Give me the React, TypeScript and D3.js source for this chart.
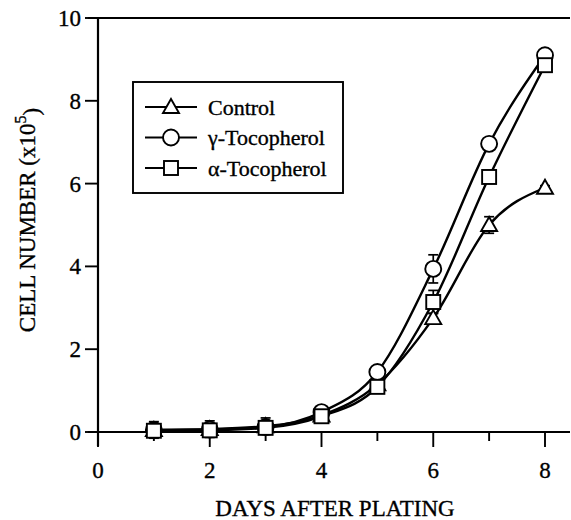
import React from "react";
import * as d3 from "d3";

// Days after plating at which cells were counted
const days = [1, 2, 3, 4, 5, 6, 7, 8];

// Cell number (x10^5), mean and standard error for each treatment
const controlMean = [0.05, 0.07, 0.14, 0.4, 1.15, 2.75, 5.0, 5.9];
const controlErr = [0.2, 0.2, 0.2, 0.05, 0.05, 0.12, 0.2, 0.05];
const gammaMean = [0.05, 0.06, 0.12, 0.48, 1.45, 3.94, 6.96, 9.1];
const gammaErr = [0.05, 0.05, 0.05, 0.05, 0.05, 0.34, 0.05, 0.05];
const alphaMean = [0.03, 0.04, 0.1, 0.38, 1.09, 3.14, 6.16, 8.86];
const alphaErr = [0.05, 0.05, 0.05, 0.05, 0.05, 0.28, 0.05, 0.05];

const seriesNames = ["Control", "\u03b3-Tocopherol", "\u03b1-Tocopherol"];
const seriesShapes = ["triangle", "circle", "square"];

const xTicks = [0, 1, 2, 3, 4, 5, 6, 7, 8];
const xTickLabels = ["0", "2", "4", "6", "8"];
const yTicks = [0, 2, 4, 6, 8, 10];

const W = 571;
const H = 520;
const FONT = "'Liberation Serif', 'Times New Roman', serif";
const TEXT_STROKE = 0.35;

function Marker({ shape, x, y }: { shape: string; x: number; y: number }) {
  const sw = 1.9;
  if (shape === "circle") {
    return <circle cx={x} cy={y} r={8} fill="#fff" stroke="#000" strokeWidth={sw} />;
  }
  if (shape === "square") {
    return <rect x={x - 7} y={y - 7} width={14} height={14} fill="#fff" stroke="#000" strokeWidth={sw} />;
  }
  const s = 8;
  return (
    <path
      d={`M${x},${y - s} L${x + s},${y + s * 0.75} L${x - s},${y + s * 0.75} Z`}
      fill="#fff"
      stroke="#000"
      strokeWidth={sw}
    />
  );
}

export default function App() {
  const x = d3.scaleLinear().domain([0, 8]).range([98, 545]);
  const y = d3.scaleLinear().domain([0, 10]).range([432, 18]);

  const series = [
    { name: seriesNames[0], shape: seriesShapes[0], mean: controlMean, err: controlErr },
    { name: seriesNames[1], shape: seriesShapes[1], mean: gammaMean, err: gammaErr },
    { name: seriesNames[2], shape: seriesShapes[2], mean: alphaMean, err: alphaErr },
  ];

  const line = d3
    .line<number>()
    .x((_, i) => x(days[i]))
    .y((d) => y(d))
    .curve(d3.curveMonotoneX);

  return (
    <svg
      width={W}
      height={H}
      style={{ position: "absolute", left: 0, top: 0, background: "#fff" }}
      fontFamily={FONT}
    >
      {/* frame: left axis, bottom axis, top rule */}
      <line x1={98} x2={98} y1={18} y2={446} stroke="#000" strokeWidth={2.2} />
      <line x1={88} x2={570} y1={432} y2={432} stroke="#000" strokeWidth={2.2} />
      <line x1={88} x2={570} y1={18} y2={18} stroke="#000" strokeWidth={2.2} />

      {/* y ticks */}
      {yTicks.map((t) => (
        <g key={`y${t}`}>
          <line x1={85} x2={98} y1={y(t)} y2={y(t)} stroke="#000" strokeWidth={1.9} />
          <text
            x={81}
            y={y(t)}
            dy="0.35em"
            textAnchor="end"
            fontSize={23}
            stroke="#000"
            strokeWidth={TEXT_STROKE}
          >
            {t}
          </text>
        </g>
      ))}

      {/* x ticks */}
      {xTicks.map((t) => (
        <line
          key={`x${t}`}
          x1={x(t)}
          x2={x(t)}
          y1={432}
          y2={t % 2 === 0 ? 447 : 441}
          stroke="#000"
          strokeWidth={1.9}
        />
      ))}
      {xTickLabels.map((l) => (
        <text
          key={`xl${l}`}
          x={x(+l)}
          y={470}
          dy="0.35em"
          textAnchor="middle"
          fontSize={23}
          stroke="#000"
          strokeWidth={TEXT_STROKE}
        >
          {l}
        </text>
      ))}

      {/* axis titles */}
      <text
        x={335}
        y={508}
        dy="0.35em"
        textAnchor="middle"
        fontSize={23}
        stroke="#000"
        strokeWidth={TEXT_STROKE}
      >
        DAYS AFTER PLATING
      </text>
      <text
        transform={`translate(27,220) rotate(-90)`}
        dy="0.35em"
        textAnchor="middle"
        fontSize={23}
        stroke="#000"
        strokeWidth={TEXT_STROKE}
      >
        CELL NUMBER (x10
        <tspan dy="-0.55em" fontSize={16}>5</tspan>
        <tspan dy="0.55em">)</tspan>
      </text>

      {/* growth curves */}
      {series.map((s) => (
        <path key={`l${s.name}`} d={line(s.mean) ?? ""} fill="none" stroke="#000" strokeWidth={2.4} />
      ))}

      {/* error bars */}
      {series.map((s) =>
        s.mean.map((m, i) => {
          const cx = x(days[i]);
          const y1 = y(m + s.err[i]);
          const y2 = y(m - s.err[i]);
          return (
            <g key={`e${s.name}${i}`} stroke="#000" strokeWidth={1.7}>
              <line x1={cx} x2={cx} y1={y1} y2={y2} />
              <line x1={cx - 5} x2={cx + 5} y1={y1} y2={y1} />
              <line x1={cx - 5} x2={cx + 5} y1={y2} y2={y2} />
            </g>
          );
        })
      )}

      {/* markers */}
      {series.map((s) =>
        s.mean.map((m, i) => <Marker key={`m${s.name}${i}`} shape={s.shape} x={x(days[i])} y={y(m)} />)
      )}

      {/* legend */}
      <rect x={133} y={82} width={210} height={111} fill="#fff" stroke="#000" strokeWidth={1.9} />
      {series.map((s, i) => {
        const ly = 107 + i * 30.5;
        return (
          <g key={`lg${s.name}`}>
            <line x1={145} x2={197} y1={ly} y2={ly} stroke="#000" strokeWidth={2.2} />
            <Marker shape={s.shape} x={171} y={ly} />
            <text x={208} y={ly} dy="0.35em" fontSize={22} stroke="#000" strokeWidth={TEXT_STROKE}>
              {s.name}
            </text>
          </g>
        );
      })}
    </svg>
  );
}
